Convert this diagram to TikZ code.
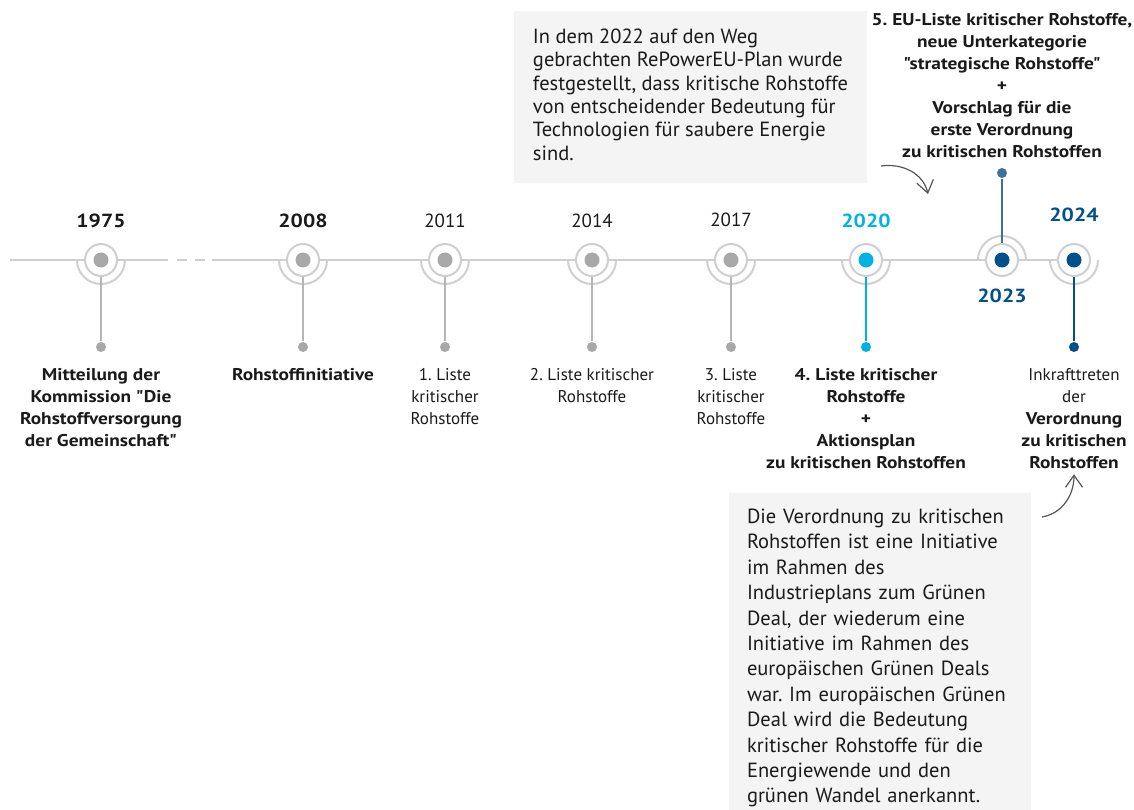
\documentclass[tikz,border=0pt]{standalone}
\usepackage{fontspec}
\setmainfont{PT Sans}[Ligatures=TeXOff, BoldFeatures={FakeStretch=1.14}]
\frenchspacing
\usetikzlibrary{arrows.meta, positioning, backgrounds}
\definecolor{cline}{HTML}{CFCFCF}
\definecolor{cstem}{HTML}{B5B5B5}
\definecolor{cdot}{HTML}{A8A8A8}
\definecolor{ccyan}{HTML}{00B2E3}
\definecolor{cnavy}{HTML}{00508A}
\definecolor{cmid}{HTML}{3F6F9E}
\definecolor{cbox}{HTML}{F4F4F4}
\definecolor{ctext}{HTML}{1A1A1A}
\definecolor{carrow}{HTML}{555555}
\tikzset{
  every picture/.style={x=1pt, y=1pt, line width=2pt},
  ring/.style={circle, draw=cline, fill=white, minimum size=32pt, inner sep=0pt},
  dot/.style={circle, fill=#1, minimum size=15pt, inner sep=0pt},
  enddot/.style={circle, fill=#1, minimum size=10pt, inner sep=0pt},
  enddot/.default=cdot,
  stem/.style={draw=#1, line width=2pt},
  stem/.default=cstem,
  timeline/.style={draw=cline, line width=2pt},
  year/.style={font=\fontsize{19}{21}\selectfont\bfseries, text=ctext, anchor=base, inner sep=0pt},
  yearlight/.style={year, font=\fontsize{19}{21}\selectfont},
  mtext/.style={font=\fontsize{17}{22}\selectfont, text=ctext, align=center, anchor=north, inner sep=0pt},
  mbold/.style={mtext, font=\fontsize{17}{22}\selectfont\bfseries},
  notebox/.style={fill=cbox, align=left, anchor=north west, text=ctext, inner xsep=18pt},
  curvearrow/.style={draw=carrow, line width=1.2pt, -{Straight Barb[length=12pt, width=17pt]}},
}
\begin{document}
\begin{tikzpicture}
  \useasboundingbox (0,0) rectangle (1134,-810);
  % one milestone: ring, dot, half arc; name, x, dot colour, arc from, arc to
  \newcommand{\milestone}[5]{%
    \node[ring] (#1) at (#2,-260) {};
    \node[dot=#3] (#1d) at (#1) {};
    \draw[cline] (#1.center) ++(#4:24pt) arc[start angle=#4, end angle=#5, radius=24pt];}
  \foreach \yr/\x in {1975/101, 2008/303, 2011/445, 2014/592, 2017/731}{
    \milestone{m\yr}{\x}{cdot}{180}{360}
    \node[enddot, below=64pt of m\yr] (e\yr) {};
    \draw[stem] (m\yr) -- (e\yr);}
  \milestone{m2020}{866}{ccyan}{180}{360}
  \milestone{m2023}{1002}{cnavy}{0}{180}
  \milestone{m2024}{1074}{cnavy}{180}{360}
  \node[enddot=ccyan, below=64pt of m2020] (e2020) {};
  \node[enddot=cmid, above=64pt of m2023] (e2023) {};
  \node[enddot=cnavy, below=64pt of m2024] (e2024) {};
  \draw[stem=ccyan] (m2020) -- (e2020);
  \draw[stem=cmid] (m2023) -- (e2023);
  \draw[stem=cnavy] (m2024) -- (e2024);
  % the time axis, with a break after 1975
  \begin{scope}[on background layer]
    \coordinate (lstart) at (10,-260);
    \coordinate (gapl) at (168,-260);
    \coordinate (gapr) at (212,-260);
    \draw[timeline] (lstart) -- (gapl);
    \draw[timeline, dash pattern=on 10pt off 8pt] ([xshift=9pt]gapl) -- ([xshift=-7pt]gapr);
    \draw[timeline] (gapr) -- (m2024.center);
  \end{scope}
  % years
  \node[year] (y1975) at (101,-228) {1975};
  \node[year] (y2008) at (303,-228) {2008};
  \node[yearlight] (y2011) at (445,-228) {2011};
  \node[yearlight] (y2014) at (592,-228) {2014};
  \node[yearlight] (y2017) at (731,-227) {2017};
  \node[year, text=ccyan] (y2020) at (866,-228) {2020};
  \node[year, text=cnavy] (y2023) at (1002,-302) {2023};
  \node[year, text=cnavy] (y2024) at (1074,-222) {2024};
  % texts under and over the axis
  \node[mbold] (t1975) at (101,-367) {Mitteilung der\\Kommission "Die\\Rohstoffversorgung\\der Gemeinschaft"};
  \node[mbold] (t2008) at (303,-367) {Rohstoffinitiative};
  \node[mtext] (t2011) at (445,-367) {1. Liste\\kritischer\\Rohstoffe};
  \node[mtext] (t2014) at (592,-367) {2. Liste kritischer\\Rohstoffe};
  \node[mtext] (t2017) at (731,-367) {3. Liste\\kritischer\\Rohstoffe};
  \node[mbold] (t2020) at (866,-367) {4. Liste kritischer\\Rohstoffe\\+\\Aktionsplan\\zu kritischen Rohstoffen};
  \node[mtext] (t2024) at (1074,-367) {Inkrafttreten\\der\\\textbf{Verordnung}\\\textbf{zu kritischen}\\\textbf{Rohstoffen}};
  \node[mbold] (t2023) at (1002,-12) {5. EU-Liste kritischer Rohstoffe,\\neue Unterkategorie\\"strategische Rohstoffe"\\+\\Vorschlag für die\\erste Verordnung\\zu kritischen Rohstoffen};
  % grey notes
  \node[notebox, font=\fontsize{20.5}{23.3}\selectfont, minimum width=353pt, minimum height=172pt] (repower) at (513,-10)
    {In dem 2022 auf den Weg\\gebrachten RePowerEU-Plan wurde\\festgestellt, dass kritische Rohstoffe\\von entscheidender Bedeutung für\\Technologien für saubere Energie\\sind.\rule[-5pt]{0pt}{5pt}};
  \node[notebox, font=\fontsize{20.5}{25.4}\selectfont, text width=266pt, inner ysep=16pt] (verordnung) at (728,-492)
    {Die Verordnung zu kritischen\\Rohstoffen ist eine Initiative\\im Rahmen des\\Industrieplans zum Grünen\\Deal, der wiederum eine\\Initiative im Rahmen des\\europäischen Grünen Deals\\war. Im europäischen Grünen\\Deal wird die Bedeutung\\kritischer Rohstoffe für die\\Energiewende und den\\grünen Wandel anerkannt.};
  \draw[curvearrow] ([xshift=13pt, yshift=18pt]repower.south east) to[out=8, in=103] ([shift={(-74pt,66pt)}]m2023.center);
  \draw[curvearrow] ([xshift=10pt, yshift=-25pt]verordnung.north east) to[out=10, in=-90] ([yshift=-5pt]t2024.south);
\end{tikzpicture}
\end{document}
